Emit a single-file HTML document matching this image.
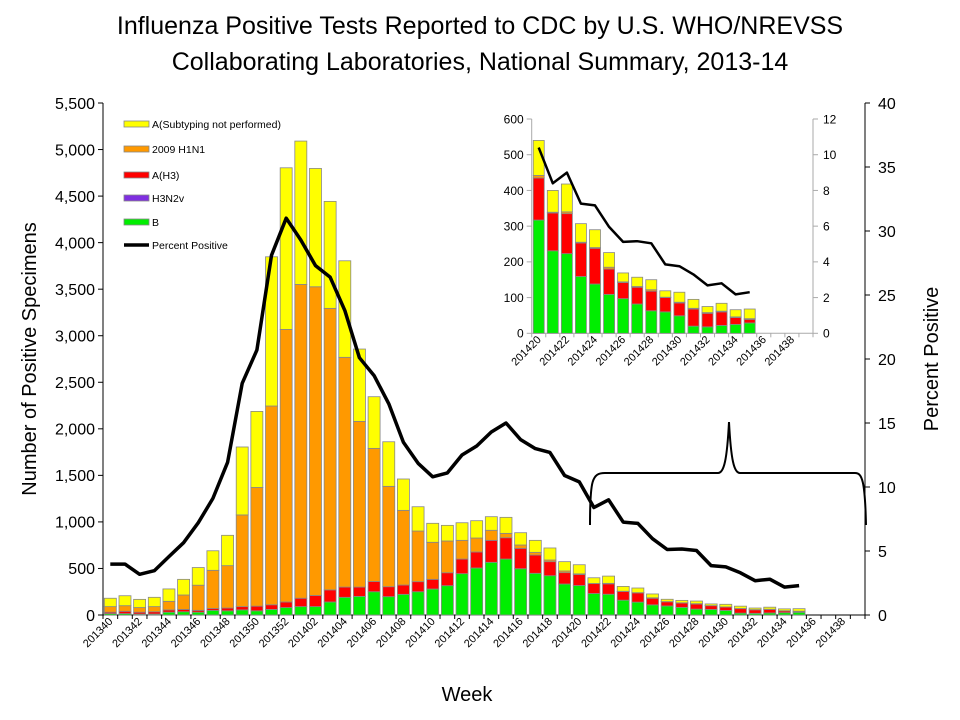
<!DOCTYPE html>
<html><head><meta charset="utf-8">
<style>
body{margin:0;background:#fff;}
svg{display:block;font-family:"Liberation Sans",Arial,sans-serif;}
</style></head>
<body>
<svg id="chart" width="960" height="720" viewBox="0 0 960 720" xmlns="http://www.w3.org/2000/svg">
<text x="480" y="34" text-anchor="middle" font-size="25">Influenza Positive Tests Reported to CDC by U.S. WHO/NREVSS</text>
<text x="480" y="70" text-anchor="middle" font-size="25">Collaborating Laboratories, National Summary, 2013-14</text>
<text transform="translate(36,359) rotate(-90)" text-anchor="middle" font-size="20">Number of Positive Specimens</text>
<text transform="translate(938,359) rotate(-90)" text-anchor="middle" font-size="20">Percent Positive</text>
<text x="467" y="701" text-anchor="middle" font-size="20">Week</text>
<g id="main"></g>
<g id="inset"></g>
<path d="M590,525 C590,480 592,473 605,473 L718,473 C724,473 727,460 729,422 C731,460 734,473 740,473 L855,473 C862,473 865,480 866,525" fill="none" stroke="#000" stroke-width="2"/>
<g id="legend"></g>
</svg>
<script>
const weeks=[];
for(let w=40;w<=52;w++)weeks.push('2013'+w);
for(let w=1;w<=39;w++)weeks.push('2014'+(w<10?'0'+w:w));
const seriesB=[15,15,10,10,30,35,30,50,45,55,45,60,80,90,90,140,190,200,250,197,222,250,279,315,444,505,566,601,497,448,422,333,317,231,223,159,138,109,97,82,63,60,49,20,18,22,25,29];
const seriesH3N2v=[0,0,0,0,0,0,0,0,0,0,0,0,0,0,0,0,0,0,0,0,0,0,0,0,0,0,0,0,0,0,0,0,0,0,0,0,0,0,0,0,0,0,0,0,0,0,0,0];
const seriesH3=[15,25,20,25,25,25,20,20,30,35,50,50,60,90,120,130,110,100,110,107,100,108,104,139,157,172,236,229,219,196,151,122,118,106,112,94,100,71,45,47,55,40,36,48,38,38,19,10];
const seriesH1N1=[60,60,50,55,92,155,270,410,455,985,1275,2135,2928,3371,3316,3024,2468,1780,1430,1078,802,544,398,341,201,150,108,47,36,29,18,18,7,2,5,2,2,5,2,2,4,1,2,2,2,2,2,2];
const seriesUnsub=[90,107,88,100,133,168,190,210,326,730,817,1603,1736,1540,1271,1149,1037,777,555,479,337,261,204,168,189,186,146,172,132,129,129,100,98,61,78,52,50,41,25,26,28,18,28,25,17,22,20,27];
const percentPositive=[3.98,3.98,3.18,3.46,4.56,5.65,7.21,9.11,11.93,18.1,20.7,28.1,31.0,29.3,27.3,26.4,23.8,20.1,18.7,16.5,13.5,11.85,10.8,11.1,12.5,13.2,14.3,15.0,13.7,13.0,12.7,10.9,10.4,8.4,9.0,7.26,7.16,5.96,5.12,5.16,5.04,3.86,3.76,3.3,2.68,2.8,2.18,2.3];
const leftTicks=[0,500,1000,1500,2000,2500,3000,3500,4000,4500,5000,5500];
const rightTicks=[0,5,10,15,20,25,30,35,40];
const insetLeftTicks=[0,100,200,300,400,500,600];
const insetRightTicks=[0,2,4,6,8,10,12];
const insetStart=32;

const NS='http://www.w3.org/2000/svg';
function mk(tag,attrs,parent,text){const e=document.createElementNS(NS,tag);for(const k in attrs)e.setAttribute(k,attrs[k]);if(text!==undefined)e.textContent=text;parent.appendChild(e);return e;}
const fmt=v=>v.toLocaleString('en-US');
const stackDefs=[[seriesB,'#00ee00','bar-b'],[seriesH3N2v,'#7f2fe0','bar-h3n2v'],[seriesH3,'#ff0000','bar-h3'],[seriesH1N1,'#ff9900','bar-h1n1'],[seriesUnsub,'#ffff00','bar-unsubtyped']];

function drawChart(g,o){
  const n=o.cats.length,band=o.w/n;
  const xC=i=>o.x0+(i+0.5)*band;
  const yL=v=>o.yb-v/o.lmax*o.h;
  const yR=p=>o.yb-p/o.rmax*o.h;
  // axes
  let e;
  e=mk('line',{x1:o.x0,y1:o.yb-o.h,x2:o.x0,y2:o.yb,stroke:o.axisColor,'stroke-width':1},g);
  
  e=mk('line',{x1:o.x0+o.w,y1:o.yb-o.h,x2:o.x0+o.w,y2:o.yb,stroke:o.axisColor,'stroke-width':1},g);
  
  e=mk('line',{x1:o.x0,y1:o.yb,x2:o.x0+o.w,y2:o.yb,stroke:o.axisColor,'stroke-width':1},g);
  
  o.lt.forEach(v=>{
    mk('line',{x1:o.x0-5,y1:yL(v),x2:o.x0,y2:yL(v),stroke:o.axisColor},g);
    e=mk('text',{x:o.x0-8,y:yL(v)+o.fs*0.36,'text-anchor':'end','font-size':o.fs},g,fmt(v));
    
  });
  o.rt.forEach(v=>{
    mk('line',{x1:o.x0+o.w,y1:yR(v),x2:o.x0+o.w+5,y2:yR(v),stroke:o.axisColor},g);
    e=mk('text',{x:o.x0+o.w+o.rOff,y:yR(v)+o.fs*0.36,'text-anchor':'start','font-size':o.fs},g,String(v));
    
  });
  for(let i=0;i<=n;i++)mk('line',{x1:o.x0+i*band,y1:o.yb,x2:o.x0+i*band,y2:o.yb+4,stroke:o.axisColor},g);
  o.cats.forEach((c,i)=>{
    if(i%2)return;
    const x=xC(i)+3,y=o.yb+7;
    e=mk('text',{transform:`translate(${x},${y}) rotate(-45)`,'text-anchor':'end','font-size':o.xfs},g,c);
    
  });
  // bars
  for(let i=0;i<n;i++){
    const k=i+o.off;
    if(k>=seriesB.length)continue;
    let base=0;
    stackDefs.forEach(([arr,col,nm])=>{
      const v=arr[k];if(!v)return;
      const r=mk('rect',{x:xC(i)-o.bw/2,y:yL(base+v),width:o.bw,height:yL(base)-yL(base+v),fill:col,stroke:'#888','stroke-width':0.8},g);
      
      base+=v;
    });
  }
  // line
  let d='';
  for(let i=0;i<n;i++){const k=i+o.off;if(k>=percentPositive.length)continue;d+=(d?'L':'M')+xC(i).toFixed(1)+','+yR(percentPositive[k]).toFixed(1);}
  e=mk('path',{d:d,fill:'none',stroke:'#000','stroke-width':o.lw,'stroke-linejoin':'round'},g);
  
}
drawChart(document.getElementById('main'),{pre:'',cats:weeks,off:0,x0:103,w:762,yb:615,h:512,lmax:5500,rmax:40,lt:leftTicks,rt:rightTicks,fs:16,xfs:11,bw:12,lw:3.5,rOff:13,axisColor:'#000'});
drawChart(document.getElementById('inset'),{pre:'inset-',cats:weeks.slice(insetStart),off:insetStart,x0:531.7,w:281.3,yb:333.3,h:214.3,lmax:600,rmax:12,lt:insetLeftTicks,rt:insetRightTicks,fs:12,xfs:11,bw:11,lw:2.5,rOff:10,axisColor:'#aaa'});

// legend
const lg=document.getElementById('legend');
const items=[['A(Subtyping not performed)','#ffff00','legend-unsubtyped',124],['2009 H1N1','#ff9900','legend-h1n1',149],['A(H3)','#ff0000','legend-h3',175],['H3N2v','#7f2fe0','legend-h3n2v',198],['B','#00ee00','legend-b',222]];
items.forEach(([t,c,nm,y])=>{
  const r=mk('rect',{x:124,y:y-3,width:25,height:6,fill:c,stroke:'#888','stroke-width':0.8},lg);
  
  const tx=mk('text',{x:152,y:y+4,'font-size':10.5},lg,t);
  
});
const ll=mk('line',{x1:124,y1:245,x2:149,y2:245,stroke:'#000','stroke-width':3.5},lg);

const lt=mk('text',{x:152,y:249,'font-size':10.5},lg,'Percent Positive');

</script>
</body></html>
